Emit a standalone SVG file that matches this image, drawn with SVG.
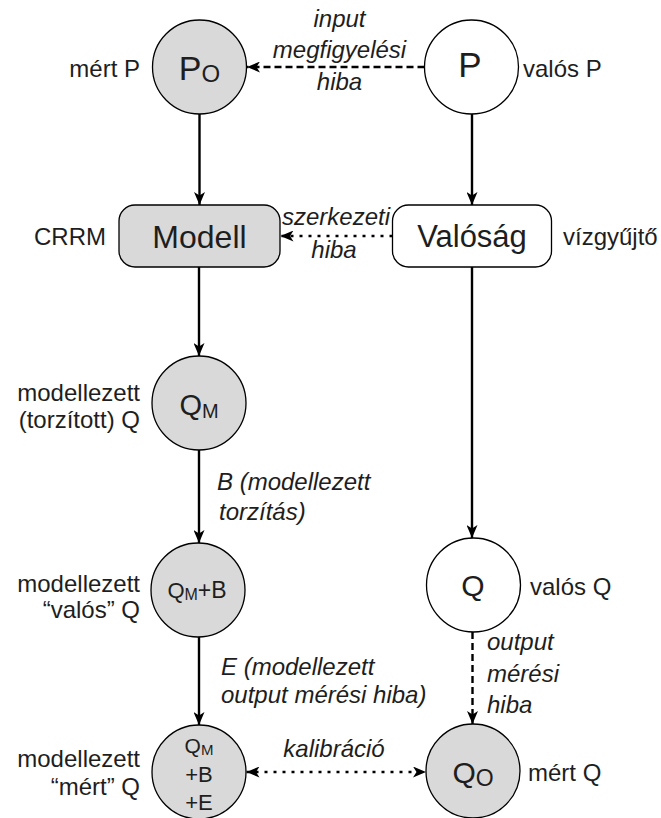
<svg xmlns="http://www.w3.org/2000/svg" width="661" height="818" viewBox="0 0 661 818">
  <style>
    text { font-family: "Liberation Sans", Arial, sans-serif; fill: #1e1e1e; }
    .lbl { font-size: 24px; }
    .it { font-size: 24px; font-style: italic; }
    .gray { fill: #d9d9d9; stroke: #000; stroke-width: 1.3; }
    .white { fill: #fff; stroke: #000; stroke-width: 1.3; }
    .edge { stroke: #000; stroke-width: 2.4; fill: none; }
    .dash { stroke-dasharray: 7 4; }
    .dot { stroke-dasharray: 3 6; }
  </style>
  <defs>
    <marker id="arrow" viewBox="0 0 13 11" refX="13" refY="5.5" markerWidth="13" markerHeight="11" markerUnits="userSpaceOnUse" orient="auto-start-reverse">
      <path d="M0,0 L13,5.5 L0,11 L3.5,5.5 Z" fill="#000"/>
    </marker>
  </defs>
  <rect width="661" height="818" fill="#fff"/>

  <!-- connectors -->
  <g id="connectors">
    <line class="edge" x1="199.5" y1="114" x2="199.5" y2="205" marker-end="url(#arrow)"/>
    <line class="edge" x1="472" y1="114" x2="472" y2="205" marker-end="url(#arrow)"/>
    <line class="edge" x1="199" y1="267" x2="199" y2="356" marker-end="url(#arrow)"/>
    <line class="edge" x1="199" y1="450" x2="199" y2="543" marker-end="url(#arrow)"/>
    <line class="edge" x1="199" y1="637" x2="199" y2="725" marker-end="url(#arrow)"/>
    <line class="edge" x1="472" y1="267" x2="472" y2="538" marker-end="url(#arrow)"/>
    <line class="edge dash" x1="472.5" y1="632" x2="472.5" y2="724" marker-end="url(#arrow)"/>
    <line class="edge dash" x1="424.5" y1="67" x2="247" y2="67" marker-end="url(#arrow)"/>
    <line class="edge dot" x1="392.5" y1="236" x2="280.5" y2="236" marker-end="url(#arrow)"/>
    <line class="edge dot" x1="246.5" y1="772" x2="426" y2="772" marker-start="url(#arrow)" marker-end="url(#arrow)"/>
    <text class="it" x="339.5" y="27" text-anchor="middle">input</text>
    <text class="it" x="339.5" y="58" text-anchor="middle">megfigyelési</text>
    <text class="it" x="339.5" y="90" text-anchor="middle">hiba</text>
    <text class="it" x="336" y="225" text-anchor="middle">szerkezeti</text>
    <text class="it" x="334" y="258" text-anchor="middle">hiba</text>
    <text class="it" x="217" y="490">B (modellezett</text>
    <text class="it" x="219" y="520">torzítás)</text>
    <text class="it" x="221" y="675">E (modellezett</text>
    <text class="it" x="221" y="703">output mérési hiba)</text>
    <text class="it" x="487" y="650">output</text>
    <text class="it" x="487" y="682">mérési</text>
    <text class="it" x="487" y="713">hiba</text>
    <text class="it" x="334" y="757" text-anchor="middle">kalibráció</text>
  </g>

  <!-- measured precipitation -->
  <g id="node-po">
    <circle class="gray" cx="199.5" cy="67" r="47"/>
    <text x="199.5" y="80" text-anchor="middle"><tspan font-size="34">P</tspan><tspan font-size="24" dy="2">O</tspan></text>
    <text class="lbl" x="140" y="77" text-anchor="end">mért P</text>
  </g>

  <!-- true precipitation -->
  <g id="node-p">
    <circle class="white" cx="471.5" cy="67" r="47"/>
    <text x="470" y="77" font-size="35" text-anchor="middle">P</text>
    <text class="lbl" x="523" y="77">valós P</text>
  </g>

  <!-- model -->
  <g id="node-modell">
    <rect class="gray" x="119" y="205" width="161" height="62" rx="16"/>
    <text x="199.5" y="248" font-size="32" text-anchor="middle">Modell</text>
    <text class="lbl" x="106" y="245" text-anchor="end">CRRM</text>
  </g>

  <!-- reality -->
  <g id="node-valosag">
    <rect class="white" x="392.5" y="205" width="159" height="62" rx="16"/>
    <text x="472" y="247" font-size="31" text-anchor="middle">Valóság</text>
    <text class="lbl" x="563" y="245">vízgyűjtő</text>
  </g>

  <!-- modelled runoff -->
  <g id="node-qm">
    <circle class="gray" cx="199" cy="403" r="47"/>
    <text x="199" y="415" text-anchor="middle"><tspan font-size="29">Q</tspan><tspan font-size="20" dy="3">M</tspan></text>
    <text class="lbl" x="140" y="401" text-anchor="end">modellezett</text>
    <text class="lbl" x="140" y="428" text-anchor="end">(torzított) Q</text>
  </g>

  <!-- modelled true runoff -->
  <g id="node-qmb">
    <circle class="gray" cx="198" cy="590" r="47"/>
    <text x="197" y="598" text-anchor="middle"><tspan font-size="22">Q</tspan><tspan font-size="16" dy="2">M</tspan><tspan font-size="23" dy="-2">+B</tspan></text>
    <text class="lbl" x="140" y="592" text-anchor="end">modellezett</text>
    <text class="lbl" x="140" y="618" text-anchor="end">“valós” Q</text>
  </g>

  <!-- true runoff -->
  <g id="node-q">
    <circle class="white" cx="473.5" cy="585" r="47"/>
    <text x="473" y="596" font-size="30" text-anchor="middle">Q</text>
    <text class="lbl" x="530" y="595">valós Q</text>
  </g>

  <!-- modelled measured runoff -->
  <g id="node-qmbe">
    <circle class="gray" cx="199" cy="772" r="47"/>
    <text x="199" y="753" text-anchor="middle"><tspan font-size="21">Q</tspan><tspan font-size="15" dy="2">M</tspan></text>
    <text x="199" y="782" font-size="22" text-anchor="middle">+B</text>
    <text x="199" y="810" font-size="22" text-anchor="middle">+E</text>
    <text class="lbl" x="140" y="767" text-anchor="end">modellezett</text>
    <text class="lbl" x="140" y="795" text-anchor="end">“mért” Q</text>
  </g>

  <!-- measured runoff -->
  <g id="node-qo">
    <circle class="gray" cx="473" cy="771" r="47"/>
    <text x="473" y="783" text-anchor="middle"><tspan font-size="30">Q</tspan><tspan font-size="23" dy="3">O</tspan></text>
    <text class="lbl" x="528" y="781">mért Q</text>
  </g>
</svg>
